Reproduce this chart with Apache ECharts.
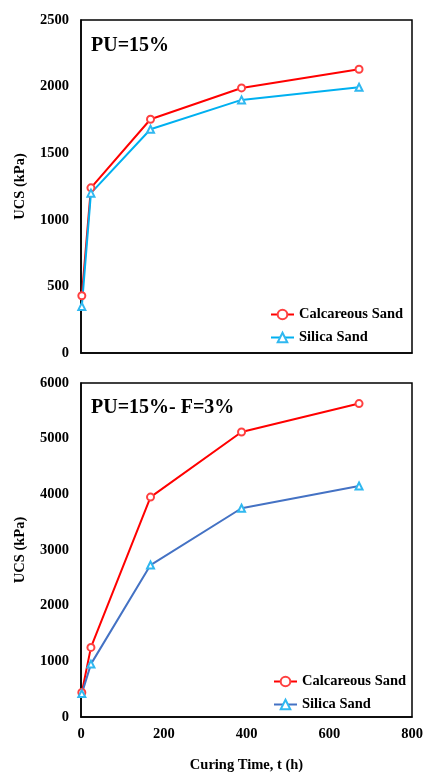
<!DOCTYPE html>
<html><head><meta charset="utf-8">
<script src="https://cdn.jsdelivr.net/npm/echarts@6/dist/echarts.min.js"></script>
<style>html,body{margin:0;padding:0;background:#fff}#c{width:423px;height:772px}</style>
</head><body><div id="c"></div>
<script>
const timeHours = [2, 24, 168, 388, 672];
const pu15Calcareous = [430, 1240, 1755, 1990, 2130];
const pu15Silica = [350, 1200, 1680, 1900, 1995];
const puF3Calcareous = [440, 1250, 3950, 5120, 5630];
const puF3Silica = [420, 950, 2730, 3750, 4150];
const topTitle = 'PU=15%';
const bottomTitle = 'PU=15%- F=3%';
const seriesNames = ['Calcareous Sand', 'Silica Sand'];

const font = 'Liberation Serif';
const pair = (xs, ys) => xs.map((x, i) => [x, ys[i]]);
const chart = echarts.init(document.getElementById('c'));
const axisLabel = {fontFamily: font, fontWeight: 'bold', fontSize: 14.5, color: '#000', margin: 12, formatter: v => String(v)};
const nameStyle = {fontFamily: font, fontWeight: 'bold', fontSize: 14.5, color: '#000'};
const legendText = {fontFamily: font, fontWeight: 'bold', fontSize: 14.5, color: '#000'};
function mkSeries(name, data, gi, lineColor, markColor, sym) {
  return {
    name, type: 'line', xAxisIndex: gi, yAxisIndex: gi, data,
    symbol: sym, symbolSize: 7, showSymbol: true,
    color: lineColor,
    lineStyle: {color: lineColor, width: 2},
    itemStyle: {color: markColor, borderWidth: 1},
    emphasis: {disabled: true}, animation: false
  };
}
chart.setOption({
  animation: false,
  title: [
    {text: topTitle, left: 86, top: 31, textStyle: {fontFamily: font, fontWeight: 'bold', fontSize: 20, color: '#000'}},
    {text: bottomTitle, left: 86, top: 393, textStyle: {fontFamily: font, fontWeight: 'bold', fontSize: 20, color: '#000'}}
  ],
  legend: [
    {data: seriesNames, orient: 'vertical', left: 265, top: 302, itemWidth: 23, itemHeight: 12, itemGap: 8,
     textStyle: legendText},
    {data: seriesNames.map(s => s + ' '), orient: 'vertical', left: 268, top: 669, itemWidth: 23, itemHeight: 12, itemGap: 8,
     textStyle: legendText}
  ],
  grid: [
    {left: 81, right: 11, top: 20, height: 333, show: true, borderColor: '#000', borderWidth: 1.5, outerBoundsMode: 'none', containLabel: false},
    {left: 81, right: 11, top: 383, height: 334, show: true, borderColor: '#000', borderWidth: 1.5, outerBoundsMode: 'none', containLabel: false}
  ],
  xAxis: [
    {type: 'value', gridIndex: 0, min: 0, max: 800, interval: 200, splitLine: {show: false},
     axisLine: {lineStyle: {color: '#000', width: 1.5}}, axisTick: {show: false}, axisLabel: {show: false}},
    {type: 'value', gridIndex: 1, min: 0, max: 800, interval: 200, splitLine: {show: false},
     axisLine: {lineStyle: {color: '#000', width: 1.5}}, axisTick: {show: false}, axisLabel: Object.assign({}, axisLabel, {margin: 10}),
     name: 'Curing Time, t (h)', nameLocation: 'middle', nameGap: 41, nameTextStyle: nameStyle}
  ],
  yAxis: [
    {type: 'value', gridIndex: 0, min: 0, max: 2500, interval: 500, splitLine: {show: false},
     axisLine: {show: true, lineStyle: {color: '#000', width: 1.5}}, axisTick: {show: false}, axisLabel: axisLabel,
     name: 'UCS (kPa)', nameLocation: 'middle', nameGap: 53, nameTextStyle: nameStyle},
    {type: 'value', gridIndex: 1, min: 0, max: 6000, interval: 1000, splitLine: {show: false},
     axisLine: {show: true, lineStyle: {color: '#000', width: 1.5}}, axisTick: {show: false}, axisLabel: axisLabel,
     name: 'UCS (kPa)', nameLocation: 'middle', nameGap: 53, nameTextStyle: nameStyle}
  ],
  series: [
    mkSeries(seriesNames[0], pair(timeHours, pu15Calcareous), 0, '#FF0000', '#FF4040', 'emptyCircle'),
    mkSeries(seriesNames[1], pair(timeHours, pu15Silica), 0, '#00B0F0', '#30B8F0', 'emptyTriangle'),
    mkSeries(seriesNames[0] + ' ', pair(timeHours, puF3Calcareous), 1, '#FF0000', '#FF4040', 'emptyCircle'),
    mkSeries(seriesNames[1] + ' ', pair(timeHours, puF3Silica), 1, '#4472C4', '#30B8F0', 'emptyTriangle')
  ]
});
</script></body></html>
